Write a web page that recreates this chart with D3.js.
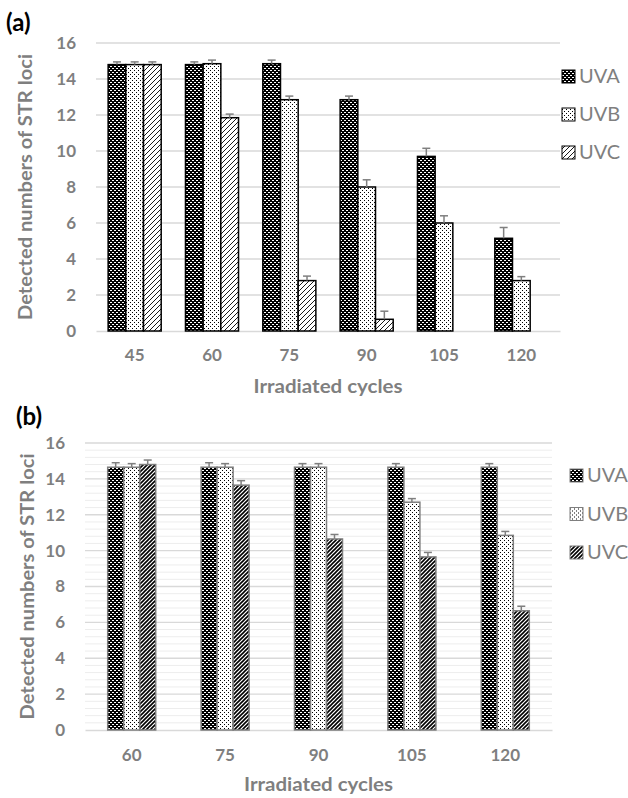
<!DOCTYPE html>
<html>
<head>
<meta charset="utf-8">
<script src="https://cdn.jsdelivr.net/npm/d3@7"></script>
<style>
body { margin: 0; background: #fff; }
text { font-family: Lato, "Open Sans", sans-serif; }
</style>
</head>
<body>
<svg id="fig" width="628" height="798"></svg>
<script>
var seriesNames = ["UVA", "UVB", "UVC"];
var yTicks = [0, 2, 4, 6, 8, 10, 12, 14, 16];

// panel (a)
var cyclesA = ["45", "60", "75", "90", "105", "120"];
var uvaA = [14.8, 14.8, 14.85, 12.85, 9.7, 5.15];
var uvbA = [14.8, 14.85, 12.85, 8.0, 6.0, 2.8];
var uvcA = [14.8, 11.85, 2.8, 0.65, null, null];
var uvaErrA = [0.15, 0.15, 0.2, 0.2, 0.45, 0.6];
var uvbErrA = [0.15, 0.2, 0.2, 0.4, 0.4, 0.22];
var uvcErrA = [0.15, 0.2, 0.25, 0.45, 0, 0];

// panel (b)
var cyclesB = ["60", "75", "90", "105", "120"];
var uvaB = [14.65, 14.65, 14.65, 14.65, 14.65];
var uvbB = [14.65, 14.65, 14.65, 12.7, 10.85];
var uvcB = [14.8, 13.65, 10.65, 9.65, 6.65];
var uvaErrB = [0.25, 0.25, 0.2, 0.2, 0.2];
var uvbErrB = [0.2, 0.2, 0.2, 0.2, 0.22];
var uvcErrB = [0.25, 0.25, 0.25, 0.25, 0.25];

var grey = "#7f7f7f";
var svg = d3.select("#fig");
var defs = svg.append("defs");

// fill patterns (Excel style)
var pA = defs.append("pattern").attr("id", "patUVA").attr("patternUnits", "userSpaceOnUse")
	.attr("width", 4).attr("height", 4);
pA.append("rect").attr("width", 4).attr("height", 4).attr("fill", "#000");
pA.append("rect").attr("x", 0).attr("y", 0).attr("width", 2).attr("height", 1).attr("fill", "#fff");
pA.append("rect").attr("x", 2).attr("y", 2).attr("width", 2).attr("height", 1).attr("fill", "#fff");

var pB = defs.append("pattern").attr("id", "patUVB").attr("patternUnits", "userSpaceOnUse")
	.attr("width", 4).attr("height", 4);
pB.append("rect").attr("width", 4).attr("height", 4).attr("fill", "#fff");
pB.append("rect").attr("x", 0).attr("y", 0).attr("width", 1).attr("height", 1).attr("fill", "#000");
pB.append("rect").attr("x", 2).attr("y", 2).attr("width", 1).attr("height", 1).attr("fill", "#000");

function diagPattern(id, s, w){
	var p = defs.append("pattern").attr("id", id).attr("patternUnits", "userSpaceOnUse")
		.attr("width", s).attr("height", s);
	p.append("rect").attr("width", s).attr("height", s).attr("fill", "#fff");
	p.append("path")
		.attr("d", "M0," + s + "L" + s + ",0M-1,1L1,-1M" + (s - 1) + "," + (s + 1) + "L" + (s + 1) + "," + (s - 1))
		.attr("stroke", "#000").attr("stroke-width", w);
}
diagPattern("patUVCa", 5, 0.9);
diagPattern("patUVCb", 4, 1.6);

function drawPanel(p){
	var g = svg.append("g");

	var x = d3.scaleBand().domain(p.cycles).range([p.left, p.right])
		.paddingInner(p.pad).paddingOuter(p.pad / 2);
	var xs = d3.scaleBand().domain(seriesNames).range([0, x.bandwidth()]);
	var y = d3.scaleLinear().domain([0, 16]).range([p.bottom, p.top]);

	// minor grid (every 0.4)
	if(p.minor){
		var minorTicks = d3.range(0, 41).map(function(i){ return i * 0.4; })
			.filter(function(v){ return Math.abs(v / 2 - Math.round(v / 2)) > 0.01; });
		g.append("g").selectAll("line").data(minorTicks).enter().append("line")
			.attr("x1", p.left).attr("x2", p.right)
			.attr("y1", function(d){ return y(d); }).attr("y2", function(d){ return y(d); })
			.attr("stroke", "#ededed").attr("stroke-width", 1);
	}

	// major grid
	g.append("g").selectAll("line").data(yTicks.slice(1)).enter().append("line")
		.attr("x1", p.left).attr("x2", p.right)
		.attr("y1", function(d){ return y(d); }).attr("y2", function(d){ return y(d); })
		.attr("stroke", "#d9d9d9").attr("stroke-width", 1.3);

	// y axis
	var ya = g.append("g").attr("transform", "translate(" + (p.left - 20) + ",0)")
		.call(d3.axisLeft(y).tickValues(yTicks).tickSize(0).tickPadding(0));
	ya.select(".domain").remove();
	ya.selectAll("text").attr("fill", grey).attr("font-size", 17).attr("font-weight", "bold")
		.style("font-family", "Lato, sans-serif");

	// x axis
	var xa = g.append("g").attr("transform", "translate(0," + p.bottom + ")")
		.call(d3.axisBottom(x).tickSize(0).tickPadding(p.xPad));
	xa.select(".domain").attr("stroke", "#d9d9d9").attr("stroke-width", 1.3);
	xa.selectAll("text").attr("fill", grey).attr("font-size", 17).attr("font-weight", "bold")
		.style("font-family", "Lato, sans-serif");

	// bars
	var fills = ["url(#patUVA)", "url(#patUVB)", "url(#" + p.uvcPat + ")"];
	var rows = [];
	seriesNames.forEach(function(s, i){
		p.values[i].forEach(function(v, j){
			if(v != null) rows.push({ s: s, i: i, cat: p.cycles[j], v: v, e: p.errors[i][j] });
		});
	});

	g.append("g").selectAll("rect").data(rows).enter().append("rect")
		.attr("x", function(d){ return x(d.cat) + xs(d.s); })
		.attr("y", function(d){ return y(d.v); })
		.attr("width", xs.bandwidth())
		.attr("height", function(d){ return y(0) - y(d.v); })
		.attr("fill", function(d){ return fills[d.i]; })
		.attr("stroke", p.outline).attr("stroke-width", 1.5);

	// error bars (upper only)
	var eb = g.append("g").selectAll("g").data(rows.filter(function(d){ return d.e > 0; })).enter().append("g")
		.attr("stroke", grey).attr("stroke-width", 1.5);
	eb.append("line")
		.attr("x1", function(d){ return x(d.cat) + xs(d.s) + xs.bandwidth() / 2; })
		.attr("x2", function(d){ return x(d.cat) + xs(d.s) + xs.bandwidth() / 2; })
		.attr("y1", function(d){ return y(d.v); })
		.attr("y2", function(d){ return y(d.v + d.e); });
	eb.append("line")
		.attr("x1", function(d){ return x(d.cat) + xs(d.s) + xs.bandwidth() / 2 - 4; })
		.attr("x2", function(d){ return x(d.cat) + xs(d.s) + xs.bandwidth() / 2 + 4; })
		.attr("y1", function(d){ return y(d.v + d.e); })
		.attr("y2", function(d){ return y(d.v + d.e); });

	// legend
	var lg = g.append("g").selectAll("g").data(seriesNames).enter().append("g")
		.attr("transform", function(d, i){ return "translate(" + p.legX + "," + (p.legY + i * p.legStep) + ")"; });
	lg.append("rect").attr("x", 0).attr("y", -13).attr("width", 13).attr("height", 13)
		.attr("fill", function(d, i){ return fills[i]; })
		.attr("stroke", p.outline).attr("stroke-width", 1);
	lg.append("text").attr("x", 17).attr("y", 0)
		.attr("fill", grey).attr("font-size", 20)
		.text(function(d){ return d; });

	// axis titles
	g.append("text")
		.attr("transform", "translate(" + p.yTitleX + "," + ((p.top + p.bottom) / 2) + ") rotate(-90)")
		.attr("text-anchor", "middle")
		.attr("fill", grey).attr("font-size", 19).attr("font-weight", "bold")
		.attr("textLength", 266).attr("lengthAdjust", "spacingAndGlyphs")
		.text("Detected numbers of STR loci");
	g.append("text")
		.attr("x", (p.left + p.right) / 2).attr("y", p.xTitleY)
		.attr("text-anchor", "middle")
		.attr("fill", grey).attr("font-size", 19).attr("font-weight", "bold")
		.attr("textLength", 149).attr("lengthAdjust", "spacingAndGlyphs")
		.text("Irradiated cycles");

	// panel label
	g.append("text").attr("x", p.labX).attr("y", p.labY)
		.attr("fill", "#000").attr("font-size", 24).attr("font-weight", "bold")
		.text(p.label);
}

drawPanel({
	label: "(a)", labX: 6, labY: 31,
	cycles: cyclesA,
	values: [uvaA, uvbA, uvcA],
	errors: [uvaErrA, uvbErrA, uvcErrA],
	left: 96, right: 560, top: 43, bottom: 331, pad: 0.314,
	xPad: 18, outline: "#000", uvcPat: "patUVCa", minor: false,
	legX: 562, legY: 83, legStep: 38,
	yTitleX: 32, xTitleY: 393
});

drawPanel({
	label: "(b)", labX: 16, labY: 425,
	cycles: cyclesB,
	values: [uvaB, uvbB, uvcB],
	errors: [uvaErrB, uvbErrB, uvcErrB],
	left: 85, right: 552, top: 443, bottom: 730, pad: 0.486,
	xPad: 19, outline: grey, uvcPat: "patUVCb", minor: true,
	legX: 570, legY: 482, legStep: 38.5,
	yTitleX: 34, xTitleY: 791
});
</script>
</body>
</html>
